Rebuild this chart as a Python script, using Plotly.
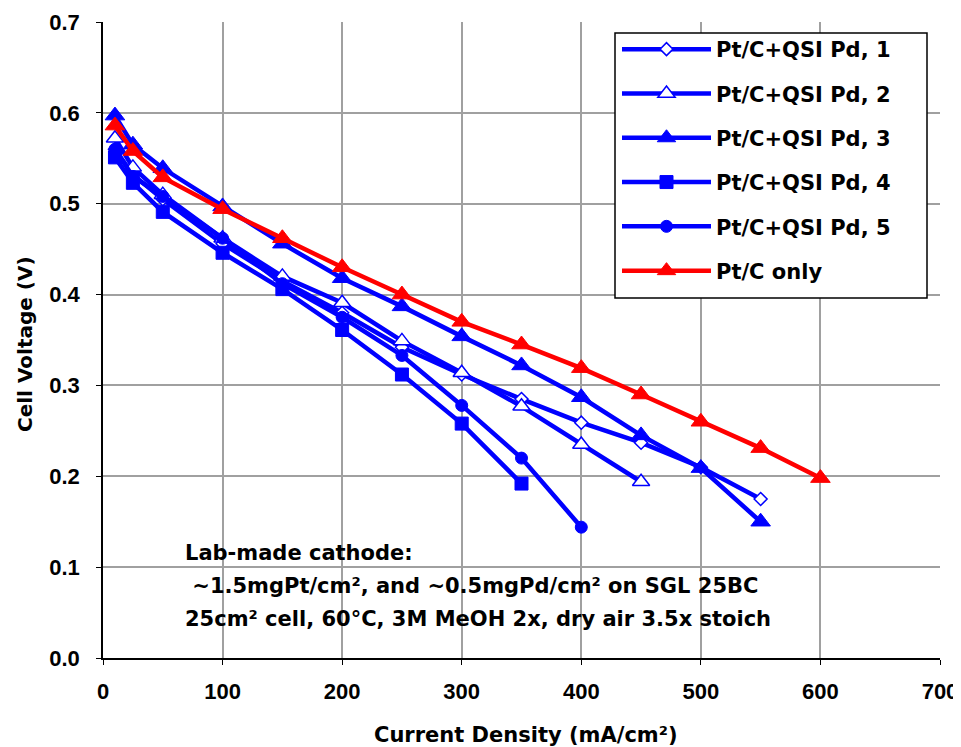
import plotly.graph_objects as go

cd_std = [10, 25, 50, 100, 150, 200, 250, 300, 350, 400, 450, 500, 550]
v1 = [0.560, 0.532, 0.505, 0.456, 0.415, 0.380, 0.342, 0.312, 0.285, 0.259, 0.237, 0.210, 0.175]
cd2 = [10, 25, 50, 100, 150, 200, 250, 300, 350, 400, 450]
v2 = [0.572, 0.540, 0.510, 0.462, 0.420, 0.391, 0.349, 0.314, 0.277, 0.235, 0.194]
v3 = [0.597, 0.565, 0.539, 0.497, 0.456, 0.418, 0.387, 0.354, 0.322, 0.287, 0.245, 0.209, 0.150]
cd4 = [10, 25, 50, 100, 150, 200, 250, 300, 350]
v4 = [0.551, 0.523, 0.491, 0.446, 0.406, 0.361, 0.312, 0.258, 0.192]
cd5 = [10, 25, 50, 100, 150, 200, 250, 300, 350, 400]
v5 = [0.560, 0.530, 0.508, 0.462, 0.412, 0.375, 0.333, 0.278, 0.220, 0.144]
cd_pt = [10, 25, 50, 100, 150, 200, 250, 300, 350, 400, 450, 500, 550, 600]
v_pt = [0.586, 0.558, 0.529, 0.494, 0.462, 0.430, 0.400, 0.370, 0.345, 0.319, 0.290, 0.260, 0.231, 0.198]

names = ["Pt/C+QSI Pd, 1", "Pt/C+QSI Pd, 2", "Pt/C+QSI Pd, 3",
         "Pt/C+QSI Pd, 4", "Pt/C+QSI Pd, 5", "Pt/C only"]
x_ticks = [0, 100, 200, 300, 400, 500, 600, 700]
y_ticks = [0.0, 0.1, 0.2, 0.3, 0.4, 0.5, 0.6, 0.7]
notes = ["Lab-made cathode:",
         " ~1.5mgPt/cm², and ~0.5mgPd/cm² on SGL 25BC",
         "25cm² cell, 60°C, 3M MeOH 2x, dry air 3.5x stoich"]
x_title = "Current Density (mA/cm²)"
y_title = "Cell Voltage (V)"

BLUE = "#0000ff"
RED = "#ff0000"
ARIAL = "Liberation Sans, Arial, sans-serif"
WIDE = "DejaVu Sans, Verdana, sans-serif"

series = [
    (cd_std, v1, BLUE, "diamond", 10, True),
    (cd2, v2, BLUE, "triangle-up", 15, True),
    (cd_std, v3, BLUE, "triangle-up", 17, False),
    (cd4, v4, BLUE, "square", 13, False),
    (cd5, v5, BLUE, "circle", 12, False),
    (cd_pt, v_pt, RED, "triangle-up", 17, False),
]

fig = go.Figure()
for i, (xs, ys, col, sym, sz, hollow) in enumerate(series):
    mk = dict(symbol=sym, size=sz,
              color="white" if hollow else col,
              line=dict(color=col, width=1.5 if hollow else 1))
    fig.add_trace(go.Scatter(
        x=xs, y=ys, mode="lines+markers", name=names[i],
        line=dict(color=col, width=4.5), marker=mk, legendgroup=str(i),
    ))

# page body has an 8px margin: figure pixel = reference pixel - 8
OFF = 8
W, H = 961 - OFF, 747 - OFF
L, T = 103 - OFF, 22 - OFF
R = W - (940 - OFF)
B = H - (658 - OFF)
pw, ph = W - L - R, H - T - B

def px_x(p):
    return (p - OFF - L) / pw

def px_y(p):
    return (H - B - (p - OFF)) / ph

for k, t in enumerate(notes):
    fig.add_annotation(
        x=px_x(183), y=px_y(553 + 33 * k), xref="paper", yref="paper",
        text="<b>" + t + "</b>", showarrow=False, xanchor="left", yanchor="middle",
        font=dict(family=WIDE, size=21, color="black"),
    )

fig.add_annotation(x=px_x(526), y=px_y(735), xref="paper", yref="paper",
                   text="<b>" + x_title + "</b>", showarrow=False,
                   xanchor="center", yanchor="middle",
                   font=dict(family=WIDE, size=21, color="black"))
fig.add_annotation(x=px_x(25), y=px_y(344), xref="paper", yref="paper",
                   text="<b>" + y_title + "</b>", showarrow=False, textangle=-90,
                   xanchor="center", yanchor="middle",
                   font=dict(family=WIDE, size=20, color="black"))

# legend frame (opaque white box with black border)
fig.add_shape(type="rect", xref="paper", yref="paper", layer="above",
              x0=px_x(615), x1=px_x(927), y0=px_y(298), y1=px_y(33),
              fillcolor="white", line=dict(color="black", width=1.5))

fig.update_layout(
    width=W, height=H,
    margin=dict(l=L, r=R, t=T, b=B, autoexpand=False),
    paper_bgcolor="white", plot_bgcolor="white",
    font=dict(family=ARIAL, size=22, color="black"),
    showlegend=True,
    legend=dict(
        x=px_x(617), y=px_y(29), xanchor="left", yanchor="top",
        borderwidth=0, bgcolor="rgba(0,0,0,0)",
        font=dict(family=WIDE, size=21, color="black", weight="bold"),
        tracegroupgap=14, itemwidth=89,
    ),
    xaxis=dict(
        range=[0, 700], tickvals=x_ticks, ticktext=[f"<b>{v}</b>" for v in x_ticks],
        showgrid=True, gridcolor="#a0a0a0", gridwidth=1.5,
        showline=True, linecolor="black", linewidth=1.5,
        ticks="outside", ticklen=5, tickcolor="black",
        ticklabelstandoff=8, automargin=False,
        tickfont=dict(family=ARIAL, size=22), zeroline=False,
    ),
    yaxis=dict(
        range=[0, 0.7], tickvals=y_ticks, ticktext=[f"<b>{v:.1f}</b>" for v in y_ticks],
        showgrid=True, gridcolor="#a0a0a0", gridwidth=1.5,
        showline=True, linecolor="black", linewidth=1.5,
        ticks="outside", ticklen=5, tickcolor="black",
        ticklabelstandoff=12, automargin=False,
        tickfont=dict(family=ARIAL, size=22), zeroline=False,
    ),
)

fig.write_html("out.html")
